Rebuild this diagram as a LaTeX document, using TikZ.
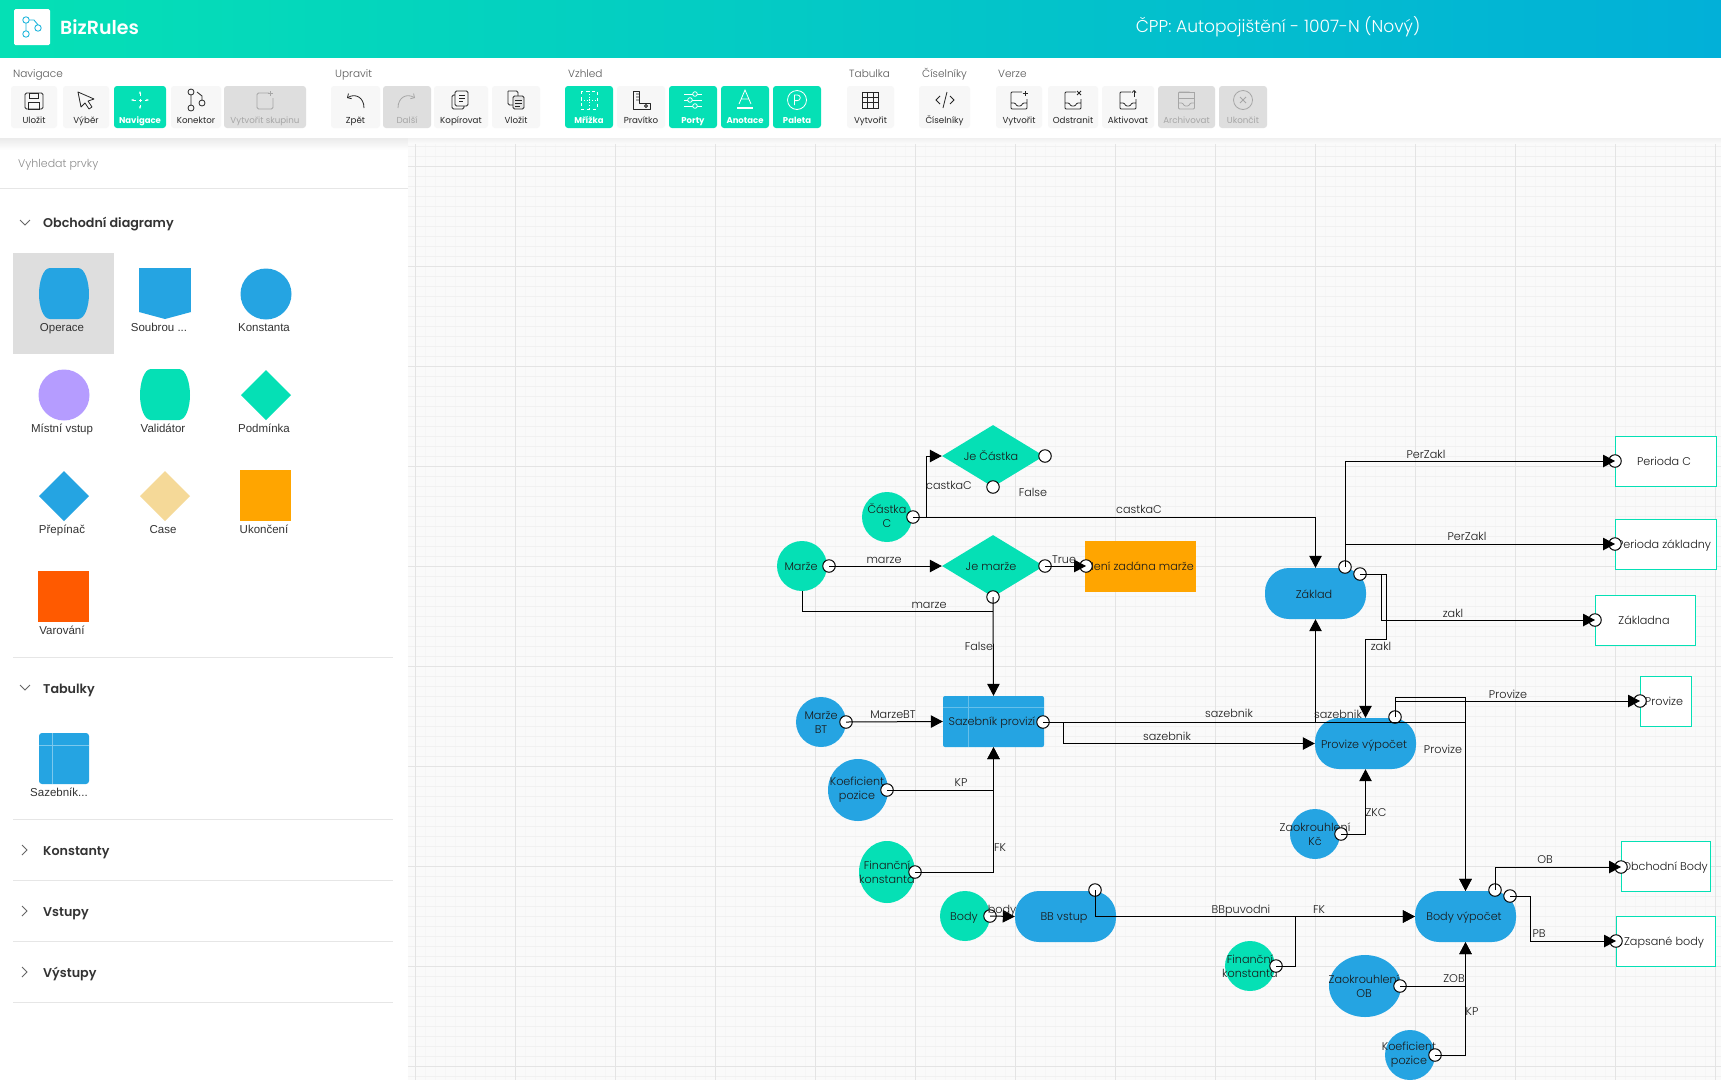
\documentclass[tikz,border=0pt]{standalone}
\usepackage{fontspec}
\setmainfont{Poppins}
\newfontfamily\lightfont{Poppins Light}
\newfontfamily\semifont{Poppins SemiBold}
\newfontfamily\armfont{Liberation Sans}
\usetikzlibrary{shapes.geometric,arrows.meta}
\definecolor{tealfill}{HTML}{05E0B5}
\definecolor{bluefill}{HTML}{25A4E2}
\definecolor{gridmajor}{HTML}{E4E4E4}
\definecolor{gridminor}{HTML}{F1F1F1}
\definecolor{gridfaint}{HTML}{F6F6F6}
\definecolor{sideline}{HTML}{E6E6E6}
\tikzset{
	value/.style={ellipse, inner sep=0pt, draw=none},
	test/.style={diamond, aspect=1.6, inner sep=0pt, minimum width=102pt, minimum height=62pt, fill=tealfill},
	calc/.style={rectangle, rounded corners=24pt, inner sep=0pt, minimum width=101pt, minimum height=51pt, fill=bluefill},
	output/.style={rectangle, draw=tealfill, line width=1pt, fill=white, inner sep=0pt},
	portdot/.style={circle, draw=black, line width=1pt, fill=white, inner sep=0pt, minimum size=12.5pt},
	flow/.style={draw=black, line width=1pt, -{Triangle[length=12pt,width=12.5pt]}},
	wire/.style={draw=black, line width=1pt},
	txtb/.style={font=\lightfont\fontsize{11.2}{14}\selectfont, text=black!90, align=center, inner sep=0pt},
	txt/.style={txtb, text height=9.5pt, text depth=0pt},
	sect/.style={font=\lightfont\fontsize{10.5}{12}\selectfont, text=black!65, inner sep=0pt, anchor=west, text height=8pt, text depth=.5pt},
	head/.style={font=\semifont\fontsize{12.7}{14}\selectfont, text=black!80, inner sep=0pt, anchor=west, text height=9.5pt, text depth=0pt},
	palette/.style={font=\armfont\fontsize{11.5}{14}\selectfont, text=black!80, inner sep=0pt, text height=9.5pt, text depth=0pt},
	btnplain/.style={rectangle, rounded corners=3pt, minimum height=42pt, inner sep=0pt, fill=black!3, text=black!85, font=\fontsize{8.7}{10}\selectfont},
	btnon/.style={btnplain, fill=tealfill, text=white, font=\bfseries\fontsize{8.5}{10}\selectfont},
	btndim/.style={btnplain, fill=black!13, text=black!35},
	ico/.style={draw=black!85, line width=.8pt},
	icoon/.style={draw=white, line width=.8pt},
	icodim/.style={draw=black!35, line width=.8pt},
}
\begin{document}
\begin{tikzpicture}[x=1pt, y=-1pt]
	\useasboundingbox (0,0) rectangle (1721,1080);
	% Canvas and grid
	\fill[black!2] (0,0) rectangle (1721,1080);
	\foreach \gx in {405,415,...,1715} \draw[gridfaint, line width=.5pt] (\gx,138) -- (\gx,1080);
	\foreach \gy in {136,146,...,1076} \draw[gridminor, line width=.7pt] (408,\gy) -- (1721,\gy);
	\foreach \gx in {415,515,...,1715} \draw[gridmajor, line width=.8pt] (\gx,138) -- (\gx,1080);
	\foreach \gy in {166,266,...,1066} \draw[gridmajor, line width=.8pt] (408,\gy) -- (1721,\gy);
	% Sidebar
	\fill[white] (0,138) rectangle (408,1080);
	\node[font=\lightfont\fontsize{11}{13}\selectfont, text=black!45, inner sep=0pt, anchor=west, text height=9.5pt, text depth=0pt] (search) at (18,163) {Vyhledat prvky};
	\foreach \ly/\lx in {188/0,657/13,819/13,880/13,941/13,1002/13} \draw[sideline, line width=.9pt] (\lx,\ly) -- (393,\ly);
	\draw[sideline, line width=.9pt] (393,188) -- (408,188);
	\node[head] (hobchod) at (43,223) {Obchodní diagramy};
	\node[head] (htabulky) at (43,689) {Tabulky};
	\node[head] (hkonst) at (43,851) {Konstanty};
	\node[head] (hvstupy) at (43,912) {Vstupy};
	\node[head] (hvystupy) at (43,973) {Výstupy};
	\foreach \cy in {223,688} \draw[black!60, line width=.9pt] (20,\cy-3) -- (25,\cy+2) -- (30,\cy-3);
	\foreach \cy in {850,911,972} \draw[black!60, line width=.9pt] (22,\cy-5) -- (27,\cy) -- (22,\cy+5);
	\fill[black!13] (13,253) rectangle (114,354);
	\fill[bluefill] (50,268) -- (78,268) .. controls (85,268) and (89,282) .. (89,294) .. controls (89,306) and (85,319) .. (78,319) -- (50,319) .. controls (43,319) and (39,306) .. (39,294) .. controls (39,282) and (43,268) .. (50,268) -- cycle;
	\fill[bluefill] (139,268) rectangle (191,312);
	\fill[bluefill] (139,312) -- (165,319) -- (191,312) -- cycle;
	\fill[bluefill] (266,294) circle (25.5);
	\fill[fill={rgb,255:red,181;green,156;blue,255}] (64,395) circle (25.5);
	\fill[tealfill] (151,369) -- (179,369) .. controls (186,369) and (190,383) .. (190,395) .. controls (190,407) and (186,420) .. (179,420) -- (151,420) .. controls (144,420) and (140,407) .. (140,395) .. controls (140,383) and (144,369) .. (151,369) -- cycle;
	\fill[tealfill] (241,395) -- (266,370) -- (291,395) -- (266,420) -- cycle;
	\fill[bluefill] (39,496) -- (64,471) -- (89,496) -- (64,521) -- cycle;
	\fill[fill={rgb,255:red,245;green,217;blue,152}] (140,496) -- (165,471) -- (190,496) -- (165,521) -- cycle;
	\fill[fill={rgb,255:red,255;green,165;blue,0}] (240,470) rectangle (291,521);
	\fill[fill={rgb,255:red,255;green,90;blue,0}] (38,571) rectangle (89,622);
	\fill[bluefill, rounded corners=3pt] (39,733) rectangle (89,784);
	\draw[white, opacity=.4, line width=.6pt] (52,733) -- (52,784) (39,745) -- (89,745);
	\node[palette] (poper) at (62,327) {Operace};
	\node[palette] (psoub) at (159,327) {Soubrou ...};
	\node[palette] (pkons) at (264,327) {Konstanta};
	\node[palette] (pmist) at (62,428) {Místní vstup};
	\node[palette] (pvali) at (163,428) {Validátor};
	\node[palette] (ppodm) at (264,428) {Podmínka};
	\node[palette] (pprep) at (62,529) {Přepínač};
	\node[palette] (pcase) at (163,529) {Case};
	\node[palette] (pukon) at (264,529) {Ukončení};
	\node[palette] (pvaro) at (62,630) {Varování};
	\node[palette] (psaze) at (59,792) {Sazebník...};
	% Toolbar
	\shade[top color=black!8, bottom color=white] (0,138) rectangle (408,150);
	\shade[top color=black!6, bottom color=black!2] (408,138) rectangle (1721,143);
	\fill[white] (0,57) rectangle (1721,138);
	\shade[left color=tealfill, right color={rgb,255:red,2;green,176;blue,216}] (0,0) rectangle (1721,57);
	\node[rectangle, rounded corners=1.5pt, fill=white, minimum size=36pt, inner sep=0pt] (logo) at (32,27) {};
	\draw[draw={rgb,255:red,31;green,182;blue,220}, line width=.9pt] (26,20) circle (3.2) (26,34) circle (3.2) (38,28) circle (3.2) (26,23.2) -- (26,30.8) (29.2,20) -- (34,20) -- (38,24.8);
	\node[font=\semifont\fontsize{19}{21}\selectfont, text=white, inner sep=0pt, anchor=west] (brand) at (60,27) {BizRules};
	\node[font=\lightfont\fontsize{17.1}{20}\selectfont, text=white, inner sep=0pt] (title) at (1278,27) {ČPP: Autopojištění - 1007-N (Nový)};
	\node[sect] (snavig) at (13,74) {Navigace};
	\node[sect] (supravit) at (335,74) {Upravit};
	\node[sect] (svzhled) at (568,74) {Vzhled};
	\node[sect] (stabulka) at (849,74) {Tabulka};
	\node[sect] (scisel) at (922,74) {Číselníky};
	\node[sect] (sverze) at (998,74) {Verze};
	\foreach \bname/\bx/\bw/\blab/\bstyle in {
		bulozit/34/46/Uložit/btnplain, bvyber/86/46/Výběr/btnplain, bnavig/140/52/Navigace/btnon,
		bkonekt/196/50/Konektor/btnplain, bskup/265/82/Vytvořit skupinu/btndim,
		bzpet/355.5/49/Zpět/btnplain, bdalsi/407/48/Další/btndim, bkopir/461/54/Kopírovat/btnplain, bvloz/516/48/Vložit/btnplain,
		bmriz/589/48/Mřížka/btnon, bpravit/641/48/Pravítko/btnplain, bporty/693/48/Porty/btnon, banot/745/48/Anotace/btnon, bpalet/797/48/Paleta/btnon,
		btabul/870.5/47/Vytvořit/btnplain, bcisel/944.5/51/Číselníky/btnplain,
		bverz/1019/46/Vytvořit/btnplain, bodstr/1073/50/Odstranit/btnplain, baktiv/1128/52/Aktivovat/btnplain, barch/1186.5/57/Archivovat/btndim, bukon/1243/48/Ukončit/btndim}
		\node[\bstyle, minimum width=\bw pt] (\bname) at (\bx,107) {\raisebox{-16pt}[0pt][0pt]{\blab}};
	% Toolbar icons
	\begin{scope}[shift={(34,101)}]
		\draw[ico, rounded corners=1.5pt] (-9,-8) rectangle (9,8);
		\draw[ico] (-4.5,-8) rectangle (4.5,-3) (-5.5,1) rectangle (5.5,8);
	\end{scope}
	\draw[ico, shift={(86,100)}, line join=round] (-8,-8) -- (8,-1) -- (2,1) -- (6,7) -- (3,9) -- (-1,3) -- (-5,7) -- cycle;
	\begin{scope}[shift={(140,100)}]
		\draw[icoon, dashed, {Stealth[length=3pt]}-{Stealth[length=3pt]}] (0,-9) -- (0,9);
		\draw[icoon, dashed, {Stealth[length=3pt]}-{Stealth[length=3pt]}] (-9,0) -- (9,0);
	\end{scope}
	\begin{scope}[shift={(196,100)}]
		\draw[ico] (-5,-8) circle (3) (-5,8) circle (3) (6,3) circle (3) (-5,-5) -- (-5,5) (6,0) -- (6,-4) -- (1,-8);
	\end{scope}
	\begin{scope}[shift={(265,101)}]
		\draw[icodim, rounded corners=1.5pt] (4,-8) -- (-8,-8) -- (-8,8) -- (8,8) -- (8,-3);
		\draw[icodim] (5,-10) -- (5,-5) (2.5,-7.5) -- (7.5,-7.5);
	\end{scope}
	\draw[ico, shift={(355,100)}, -{Straight Barb[length=3pt]}] (9,8) .. controls (9,-3) and (0,-7) .. (-8,-2);
	\draw[icodim, shift={(407,100)}, -{Straight Barb[length=3pt]}] (-9,8) .. controls (-9,-3) and (0,-7) .. (8,-2);
	\begin{scope}[shift={(461,100)}]
		\draw[ico, rounded corners=1.5pt] (-6,-9) rectangle (7,6) (-6,-5) -- (-9,-5) -- (-9,9) -- (3,9) -- (3,6);
		\draw[ico] (-2,-5) -- (4,-5) (-2,-2) -- (4,-2) (-2,1) -- (2,1);
	\end{scope}
	\begin{scope}[shift={(516,100)}]
		\draw[ico, rounded corners=1.5pt] (-8,-9) -- (2,-9) -- (2,-3) (-8,-9) -- (-8,5) -- (-3,5);
		\draw[ico, fill=black!10, rounded corners=1.5pt] (-3,-4) rectangle (8,9);
		\draw[ico] (-1,0) -- (6,0) (-1,3) -- (6,3) (-1,6) -- (4,6);
	\end{scope}
	\begin{scope}[shift={(589,100)}]
		\draw[icoon, dashed] (-8,-9) rectangle (8,9);
		\draw[icoon, dotted] (0,-9) -- (0,9) (-8,0) -- (8,0);
	\end{scope}
	\begin{scope}[shift={(641,100)}]
		\draw[ico, line join=round] (-8,-9) -- (-2,-9) -- (-2,3) -- (9,3) -- (9,9) -- (-8,9) -- cycle;
		\draw[ico] (-5,-6) -- (-2,-6) (-5,-3) -- (-2,-3) (-5,0) -- (-2,0) (5,6) circle (1.5);
	\end{scope}
	\begin{scope}[shift={(693,100)}]
		\draw[icoon] (-9,-6) -- (9,-6) (-9,0) -- (9,0) (-9,6) -- (9,6);
		\draw[icoon, fill=tealfill] (2,-6) circle (2.3) (-3,0) circle (2.3) (2,6) circle (2.3);
	\end{scope}
	\begin{scope}[shift={(745,100)}]
		\draw[icoon] (-6,4) -- (0,-10) -- (6,4) (-3.5,-1) -- (3.5,-1);
		\draw[icoon, line width=1.6pt] (-8,8) -- (8,8);
	\end{scope}
	\begin{scope}[shift={(797,100)}]
		\draw[icoon] (0,0) circle (9.5);
		\draw[icoon] (-2.5,5) -- (-2.5,-5) -- (0.5,-5) arc[start angle=-90, end angle=90, radius=2.8] -- (-2.5,0.6);
	\end{scope}
	\begin{scope}[shift={(870.5,100)}]
		\draw[ico] (-8,-8) rectangle (8,8);
		\foreach \gv in {-2.7,2.7} \draw[ico] (\gv,-8) -- (\gv,8) (-8,\gv) -- (8,\gv);
	\end{scope}
	\draw[ico, shift={(945,100)}] (-5,-4) -- (-9,0) -- (-5,4) (5,-4) -- (9,0) -- (5,4) (2,-8) -- (-2,8);
	\foreach \ix/\idraw in {1019/ico,1073/ico,1128/ico,1186.5/icodim}
		\draw[\idraw, shift={(\ix,100)}, rounded corners=1pt] (3,-8) -- (-8,-8) -- (-8,9) -- (8,9) -- (8,-1) (-8,3) -- (-4,3) -- (-2,6) -- (2,6) -- (4,3) -- (8,3);
	\draw[ico, shift={(1019,100)}] (6,-9) -- (6,-4) (3.5,-6.5) -- (8.5,-6.5);
	\draw[ico, shift={(1073,100)}] (4,-9) -- (8,-5) (8,-9) -- (4,-5);
	\draw[ico, shift={(1128,100)}, -{Straight Barb[length=2pt]}] (6,-3) -- (6,-10);
	\draw[icodim, shift={(1186.5,100)}] (-8,-8) -- (8,-8) -- (8,-1) (-8,-2) -- (8,-2);
	\draw[icodim, shift={(1243,100)}] (0,0) circle (9.5) (-3,-3) -- (3,3) (3,-3) -- (-3,3);
	% Place nodes
	\node [value, minimum width=50pt, minimum height=50pt, fill=tealfill] (castka) at (887,517) {};
	\node [value, minimum width=50pt, minimum height=50pt, fill=tealfill] (marze) at (802,566) {};
	\node [value, minimum width=50pt, minimum height=50pt, fill=bluefill] (marzeBT) at (821,722) {};
	\node [value, minimum width=60pt, minimum height=62pt, fill=bluefill] (koef) at (858,790) {};
	\node [value, minimum width=56pt, minimum height=62pt, fill=tealfill] (fink) at (887,872) {};
	\node [value, minimum width=50pt, minimum height=50pt, fill=tealfill] (body) at (965,916) {};
	\node [value, minimum width=50pt, minimum height=50pt, fill=tealfill] (finkB) at (1250,966) {};
	\node [value, minimum width=50pt, minimum height=50pt, fill=bluefill] (zaokrKc) at (1315,834) {};
	\node [value, minimum width=72pt, minimum height=62pt, fill=bluefill] (zaokrOB) at (1365,986) {};
	\node [value, minimum width=50pt, minimum height=50pt, fill=bluefill] (koefB) at (1410,1055) {};
	\node [test] (jecastka) at (993,456) {};
	\node [test] (jemarze) at (993,566) {};
	\node [rectangle, inner sep=0pt, minimum width=111pt, minimum height=51pt, fill={rgb,255:red,255;green,165;blue,0}] (neni) at (1140.5,566.5) {};
	\node [rectangle, rounded corners=2pt, inner sep=0pt, minimum width=101pt, minimum height=51pt, fill=bluefill] (sazebnik) at (993.5,721.5) {};
	\draw[white, opacity=.3, line width=.6pt] (968,696) -- (968,747) (943,707) -- (1044,707);
	\node [calc] (zaklad) at (1315.5,593.5) {};
	\node [calc] (provize) at (1365.5,743.5) {};
	\node [calc] (bbvstup) at (1065.5,916.5) {};
	\node [calc] (bodyvyp) at (1465.5,916.5) {};
	\node [output, minimum width=101pt, minimum height=50pt] (perC) at (1665.5,461) {};
	\node [output, minimum width=101pt, minimum height=50pt] (perZ) at (1665.5,544) {};
	\node [output, minimum width=100pt, minimum height=50pt] (zakladna) at (1645,620) {};
	\node [output, minimum width=51pt, minimum height=50pt] (provOut) at (1665.5,701) {};
	\node [output, minimum width=89pt, minimum height=50pt] (obchod) at (1665.5,866) {};
	\node [output, minimum width=99pt, minimum height=50pt] (zapsane) at (1665.5,941) {};
	% Node texts
	\node [txtb] (tcastka) at (887,516) {Částka\\C};
	\node [txt] (tmarze) at (801,566) {Marže};
	\node [txtb] (tmarzeBT) at (821,722) {Marže\\BT};
	\node [txtb] (tkoef) at (857,790) {Koeficient\\pozice};
	\node [txtb] (tfink) at (887,872) {Finanční\\konstanta};
	\node [txt] (tbody) at (964,916) {Body};
	\node [txtb] (tfinkB) at (1250,966) {Finanční\\konstanta};
	\node [txtb] (tzaokrKc) at (1315,834) {Zaokrouhlení\\Kč};
	\node [txtb] (tzaokrOB) at (1364,986) {Zaokrouhlení\\OB};
	\node [txtb] (tkoefB) at (1409,1055) {Koeficient\\pozice};
	\node [txt] (tjecastka) at (991,456) {Je Částka};
	\node [txt] (tjemarze) at (991,566) {Je marže};
	\node [txt] (tneni) at (1140,566) {Není zadána marže};
	\node [txt] (tsazebnik) at (992,721) {Sazebník provizí};
	\node [txt] (tzaklad) at (1314,594) {Základ};
	\node [txt] (tprovize) at (1364,744) {Provize výpočet};
	\node [txt] (tbbvstup) at (1064,916) {BB vstup};
	\node [txt] (tbodyvyp) at (1464,916) {Body výpočet};
	\node [txt] (tperC) at (1664,461) {Perioda C};
	\node [txt] (tperZ) at (1664,544) {Perioda základny};
	\node [txt] (tzakladna) at (1644,620) {Základna};
	\node [txt] (tprovOut) at (1664,701) {Provize};
	\node [txt] (tobchod) at (1665,866) {Obchodní Body};
	\node [txt] (tzapsane) at (1664,941) {Zapsané body};
	% Place ports
	\foreach \pname/\px/\py in {pcastka/913/517, pmarze/829/566, pmarzeBT/846/722, pkoef/887/790, pfink/915/872, pbody/990/916, pfinkB/1276/966, pzaokrKc/1341/834, pzaokrOB/1400/986, pkoefB/1435/1055,
		pjecastkaR/1045/456, pjecastkaD/993/487, pjemarzeR/1045/566, pjemarzeD/993/597, pneni/1086/566, psazebnik/1043/722,
		pzakladA/1345/567, pzakladB/1360/574, pprovize/1395/717, pbbvstup/1095/890, pbodyA/1495/890, pbodyB/1510/896,
		pperC/1615/461, pperZ/1615/544, pzakladna/1595/620, pprovOut/1640/701, pobchod/1621/867, pzapsane/1616/941}
		\node [portdot] (\pname) at (\px,\py) {};
	\coordinate (marzeJoin) at (993,611);
	% Connectors
	\draw[flow] (pcastka.center) -- ++(13,0) |- (jecastka.west);
	\draw[flow] (pcastka.center) -| (zaklad.north);
	\draw[flow] (pmarze.center) -- (jemarze.west);
	\draw[wire] (marze.south) |- (marzeJoin);
	\draw[flow] (pjemarzeD.center) -- (sazebnik.north);
	\draw[flow] (pjemarzeR.center) -- (pneni.center);
	\draw[flow] (pmarzeBT.center) -- (sazebnik.west);
	\draw[flow] (pkoef.center) -| (sazebnik.south);
	\draw[flow] (pfink.center) -| (sazebnik.south);
	\draw[flow] (psazebnik.center) -| (zaklad.south);
	\draw[flow] (psazebnik.center) -| (bodyvyp.north);
	\draw[flow] (psazebnik.center) -- ++(20,0) |- (provize.west);
	\draw[flow] (pzakladA.center) |- (pperC.center);
	\draw[flow] (pzakladA.center) |- (pperZ.center);
	\draw[flow] (pzakladB.center) -- ++(21,0) |- (pzakladna.center);
	\draw[flow] (pzakladB.center) -- ++(26,0) -- ++(0,65) -| (provize.north);
	\draw[flow] (pprovize.center) |- (pprovOut.center);
	\draw[flow] (pprovize.center) -- ++(0,-20) -| (bodyvyp.north);
	\draw[flow] (pzaokrKc.center) -| (provize.south);
	\draw[flow] (pbody.center) -- (bbvstup.west);
	\draw[flow] (pbbvstup.center) |- (bodyvyp.west);
	\draw[flow] (pfinkB.center) -- ++(19,0) |- (bodyvyp.west);
	\draw[flow] (pzaokrOB.center) -| (bodyvyp.south);
	\draw[flow] (pkoefB.center) -| (bodyvyp.south);
	\draw[flow] (pbodyA.center) |- (pobchod.center);
	\draw[flow] (pbodyB.center) -- ++(20,0) |- (pzapsane.center);
	% Connector labels
	\node [txt] (lcastkaA) at (949,485) {castkaC};
	\node [txt] (lfalseA) at (1033,492) {False};
	\node [txt] (lcastkaB) at (1139,509) {castkaC};
	\node [txt] (lmarzeA) at (884,559) {marze};
	\node [txt] (ltrue) at (1064,559) {True};
	\node [txt] (lmarzeB) at (929,604) {marze};
	\node [txt] (lfalseB) at (979,646) {False};
	\node [txt] (lmarzeBT) at (893,714) {MarzeBT};
	\node [txt] (lsazebA) at (1229,713) {sazebnik};
	\node [txt] (lsazebB) at (1167,736) {sazebnik};
	\node [txt] (lsazebC) at (1338,714) {sazebnik};
	\node [txt] (lperA) at (1426,454) {PerZakl};
	\node [txt] (lperB) at (1467,536) {PerZakl};
	\node [txt] (lzaklA) at (1453,613) {zakl};
	\node [txt] (lzaklB) at (1381,646) {zakl};
	\node [txt] (lprovA) at (1508,694) {Provize};
	\node [txt] (lprovB) at (1443,749) {Provize};
	\node [txt] (lkp) at (961,782) {KP};
	\node [txt] (lfk) at (1000,847) {FK};
	\node [txt] (lzkc) at (1376,812) {ZKC};
	\node [txt] (lbody) at (1002,909) {body};
	\node [txt] (lbbp) at (1241,909) {BBpuvodni};
	\node [txt] (lfkB) at (1319,909) {FK};
	\node [txt] (lob) at (1545,859) {OB};
	\node [txt] (lpb) at (1539,933) {PB};
	\node [txt] (lzob) at (1454,978) {ZOB};
	\node [txt] (lkpB) at (1472,1011) {KP};
\end{tikzpicture}
\end{document}
